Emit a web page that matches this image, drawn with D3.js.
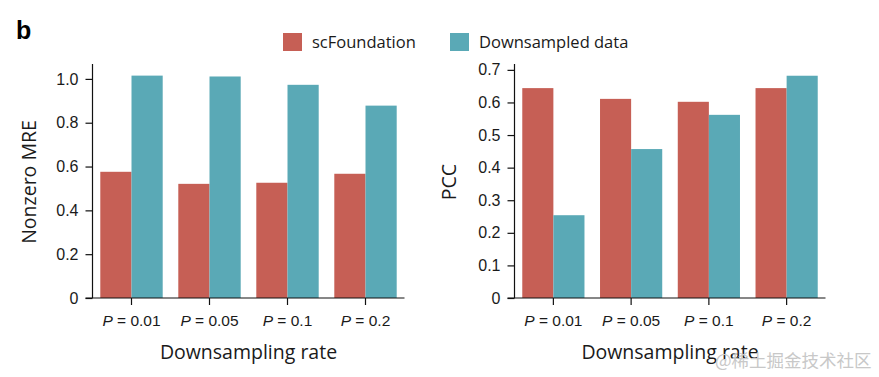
<!DOCTYPE html>
<html>
<head>
<meta charset="utf-8">
<script src="https://cdn.jsdelivr.net/npm/d3@7"></script>
<style>
  body { margin: 0; background: #fff; }
  svg { font-family: "Open Sans", sans-serif; }
  .tick text { font-size: 16px; fill: #1a1a1a; }
</style>
</head>
<body>
<div id="chart"></div>
<script>
// data
const rates = ["0.01", "0.05", "0.1", "0.2"];
const series = ["scFoundation", "Downsampled data"];
const mreScFoundation = [0.576, 0.521, 0.526, 0.567];
const mreDownsampled = [1.015, 1.011, 0.973, 0.878];
const pccScFoundation = [0.644, 0.611, 0.602, 0.644];
const pccDownsampled = [0.254, 0.457, 0.562, 0.682];
const mreTicks = [0, 0.2, 0.4, 0.6, 0.8, 1.0];
const pccTicks = [0, 0.1, 0.2, 0.3, 0.4, 0.5, 0.6, 0.7];

const colors = { "scFoundation": "#c65f55", "Downsampled data": "#5aa9b6" };

const width = 879, height = 377;
const svg = d3.select("#chart").append("svg")
  .attr("width", width)
  .attr("height", height);

// panel letter
svg.append("text")
  .attr("x", 16).attr("y", 39)
  .style("font-size", "25px").style("font-weight", "bold")
  .style("font-family", "Liberation Sans, Arial, sans-serif")
  .text("b");

// legend
const legend = [{ name: series[0], x: 283 }, { name: series[1], x: 450 }];
const lg = svg.append("g").selectAll("g").data(legend).join("g")
  .attr("transform", d => `translate(${d.x},33)`);
lg.append("rect").attr("width", 19).attr("height", 18).attr("fill", d => colors[d.name]);
lg.append("text").attr("x", 29).attr("y", 15)
  .style("font-size", "16.5px").attr("fill", "#1a1a1a").text(d => d.name);

function panel(opts) {
  const y = d3.scaleLinear().domain(opts.domain).range([298, opts.top]);
  const x = d3.scaleBand().domain(rates).range(opts.xRange)
    .paddingInner(0.2).paddingOuter(0.1);
  const xs = d3.scaleBand().domain(series).range([0, x.bandwidth()]);

  const rows = rates.map((r, i) => ({ rate: r, vals: [opts.a[i], opts.b[i]] }));
  const g = svg.append("g");
  g.selectAll("g.grp").data(rows).join("g")
    .attr("transform", d => `translate(${x(d.rate)},0)`)
    .selectAll("rect")
    .data(d => d.vals.map((v, j) => ({ s: series[j], v })))
    .join("rect")
    .attr("x", d => xs(d.s))
    .attr("width", xs.bandwidth())
    .attr("y", d => y(d.v))
    .attr("height", d => y(0) - y(d.v))
    .attr("fill", d => colors[d.s]);

  // y axis
  const ya = g.append("g")
    .attr("transform", `translate(${opts.xRange[0]},0)`)
    .call(d3.axisLeft(y).tickValues(opts.ticks).tickSize(7).tickPadding(7)
      .tickFormat(d => d === 0 ? "0" : d3.format(".1f")(d)));
  ya.select(".domain").attr("d", `M0,${opts.top}V${y(0)}`);

  // x axis
  const xa = g.append("g")
    .attr("transform", `translate(0,${y(0)})`)
    .call(d3.axisBottom(x).tickSize(7).tickPadding(8).tickSizeOuter(0).tickFormat(""));
  xa.select(".domain").attr("d", `M${opts.xRange[0] - 7},0H${opts.xRange[1]}`);
  xa.selectAll(".tick text").remove();
  xa.selectAll(".tick").append("text")
    .attr("y", 28).attr("text-anchor", "middle").attr("fill", "#1a1a1a")
    .style("font-size", "15.5px")
    .call(t => {
      t.append("tspan").style("font-style", "italic").text("P");
      t.append("tspan").text(d => " = " + d);
    });
  g.selectAll(".domain, .tick line").attr("stroke", "#111").attr("stroke-width", 1.2);

  // axis labels
  g.append("text")
    .attr("transform", `translate(${opts.yLabelX},182) rotate(-90)`)
    .attr("text-anchor", "middle").attr("dy", "0.35em")
    .style("font-size", "19.5px").attr("fill", "#1a1a1a")
    .text(opts.yLabel);
  g.append("text")
    .attr("x", (opts.xRange[0] + opts.xRange[1]) / 2).attr("y", 359)
    .attr("text-anchor", "middle")
    .style("font-size", "19.5px").attr("fill", "#1a1a1a")
    .text("Downsampling rate");
}

panel({ domain: [0, 1.068], top: 64, ticks: mreTicks, xRange: [92.5, 404.5],
  a: mreScFoundation, b: mreDownsampled, yLabel: "Nonzero MRE", yLabelX: 29 });
panel({ domain: [0, 0.718], top: 64, ticks: pccTicks, xRange: [514.5, 825.5],
  a: pccScFoundation, b: pccDownsampled, yLabel: "PCC", yLabelX: 449 });

// watermark
svg.append("text")
  .attr("x", 715).attr("y", 367)
  .style("font-family", "Noto Sans CJK SC, sans-serif")
  .style("font-size", "17.5px").attr("fill", "#c8c8c8")
  .text("@稀土掘金技术社区");
</script>
</body>
</html>
